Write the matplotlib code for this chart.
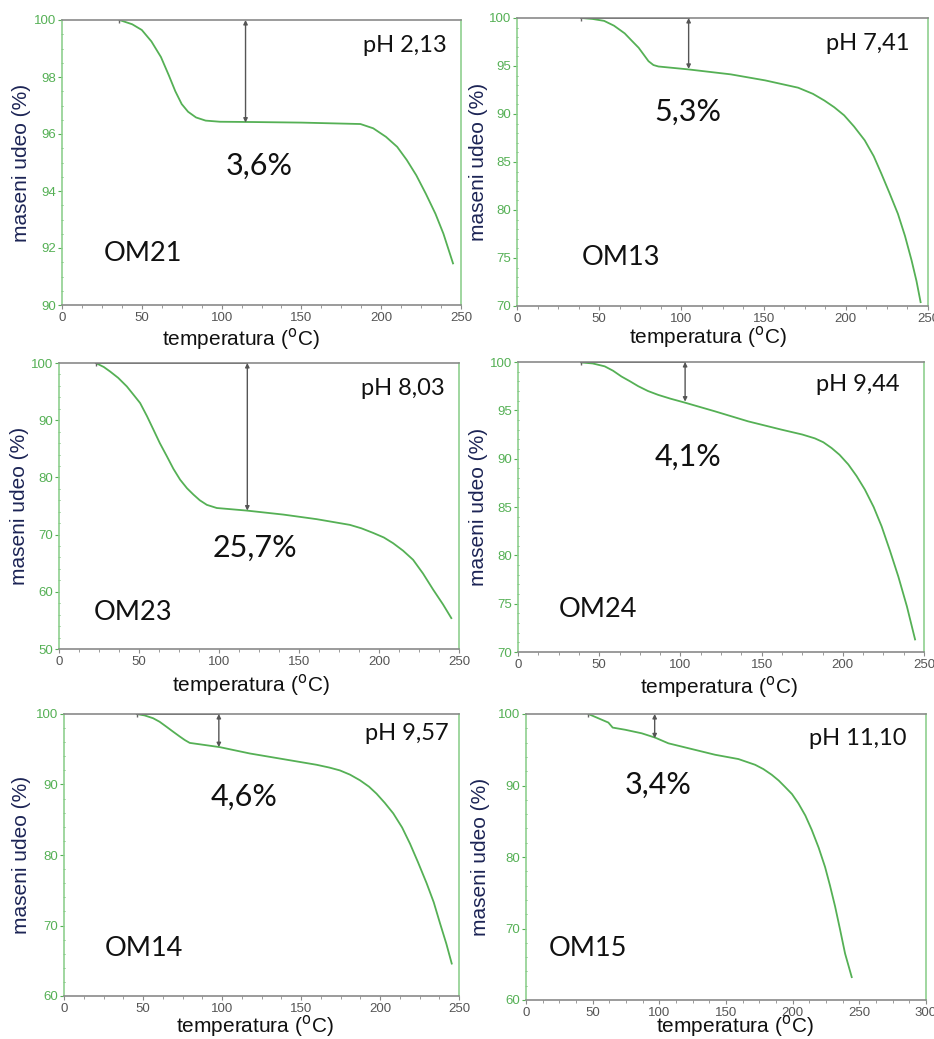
import numpy as np
import matplotlib; matplotlib.use('agg')
import matplotlib.pyplot as plt
from matplotlib.ticker import MultipleLocator, AutoMinorLocator

# sample names, pH and mass loss labels
names = ["OM21", "OM13", "OM23", "OM24", "OM14", "OM15"]
ph_labels = ["pH 2,13", "pH 7,41", "pH 8,03", "pH 9,44", "pH 9,57", "pH 11,10"]
loss_labels = ["3,6%", "5,3%", "25,7%", "4,1%", "4,6%", "3,4%"]

# TGA curves (temperature C, mass %)
t_om21 = [36, 44, 50, 56, 62, 67, 71, 75, 79, 84, 90, 99, 120, 150, 187, 195, 203, 210, 216, 222, 228, 234, 239, 245]
m_om21 = [100, 99.85, 99.65, 99.25, 98.7, 98.05, 97.5, 97.05, 96.78, 96.58, 96.47, 96.43, 96.42, 96.4, 96.35,
          96.2, 95.9, 95.55, 95.09, 94.55, 93.9, 93.2, 92.5, 91.46]
t_om13 = [39, 46, 53, 59, 65.5, 70, 74, 77, 80, 83, 86, 95, 104, 130, 151, 171, 180, 187, 193, 199, 205,
          211.5, 217, 221.6, 226.5, 231.7, 236, 240, 243, 245.5]
m_om13 = [100, 99.9, 99.7, 99.2, 98.4, 97.6, 96.9, 96.2, 95.5, 95.1, 94.95, 94.8, 94.65, 94.13, 93.5, 92.74,
          92.1, 91.4, 90.7, 89.86, 88.7, 87.26, 85.6, 83.8, 81.8, 79.6, 77.3, 74.76, 72.6, 70.4]
t_om23 = [23, 28, 32, 37, 42.4, 47, 50.7, 55, 59.1, 63, 67.4, 71.5, 75.7, 80, 84, 88, 92.4, 98.6, 117.3,
          140.2, 161, 181.8, 189, 196.3, 203, 208.8, 215, 221.3, 227.5, 233.8, 240, 245.2]
m_om23 = [100, 99.3, 98.5, 97.4, 95.9, 94.3, 93.0, 90.7, 88.3, 86.0, 83.7, 81.5, 79.6, 78.1, 77.0, 76.0,
          75.2, 74.65, 74.2, 73.5, 72.7, 71.7, 71.1, 70.3, 69.5, 68.5, 67.2, 65.6, 63.2, 60.4, 57.8, 55.4]
t_om24 = [39, 46, 53.4, 58.5, 63.7, 69, 74, 80, 86.3, 94, 102.7, 121.2, 141.7, 162.3, 175, 182.8, 188,
          193.1, 198, 203.4, 208.5, 213.6, 219, 223.9, 229, 234.2, 239.5, 244.5]
m_om24 = [99.95, 99.85, 99.55, 99.1, 98.5, 98.0, 97.5, 97.0, 96.6, 96.2, 95.8, 94.9, 93.86, 93.0, 92.5,
          92.1, 91.7, 91.1, 90.4, 89.4, 88.2, 86.8, 85.0, 83.0, 80.5, 77.8, 74.7, 71.3]
t_om14 = [46, 51, 56.4, 60.5, 64.8, 69, 73.3, 76.5, 79.6, 86, 98.6, 117.6, 138.7, 159.8, 168, 174.6, 181,
          187.3, 193, 197.8, 203, 208.4, 214, 219, 224, 229.5, 234, 238, 242, 245.4]
m_om14 = [100, 99.8, 99.4, 98.9, 98.2, 97.5, 96.8, 96.3, 95.9, 95.7, 95.3, 94.4, 93.6, 92.8, 92.4, 92.0,
          91.4, 90.6, 89.7, 88.7, 87.4, 85.9, 83.9, 81.6, 79.0, 76.0, 73.3, 70.3, 67.4, 64.6]
t_om15 = [46.8, 54.3, 61.8, 65, 74.3, 86.8, 96.8, 106.8, 124.3, 141.8, 159.3, 171.8, 178, 184.3, 189.5,
          194.3, 199.5, 204.3, 209.5, 214.3, 219.5, 224.3, 228, 231.8, 235.5, 239.3, 244.3]
m_om15 = [100, 99.4, 98.8, 98.1, 97.8, 97.3, 96.7, 95.9, 95.1, 94.3, 93.7, 92.9, 92.3, 91.5, 90.7,
          89.8, 88.8, 87.5, 85.8, 83.8, 81.3, 78.6, 76.0, 73.1, 69.9, 66.5, 63.2]

temps = [t_om21, t_om13, t_om23, t_om24, t_om14, t_om15]
masses = [m_om21, m_om13, m_om23, m_om24, m_om14, m_om15]

# step marker: arrow temperature and mass at its lower end
arrow_t = [115, 104.4, 117.7, 102.9, 98, 96.5]
arrow_m = [96.4, 94.7, 74.2, 95.9, 95.3, 96.6]
draw_base = [False, True, True, True, True, False]

# axis ranges
ymins = [90, 70, 50, 70, 60, 60]
ysteps = [2, 5, 10, 5, 10, 10]
xmaxs = [250, 250, 250, 250, 250, 300]

# text positions (data coords)
loss_pos = [(123.5, 94.9), (104, 90.2), (122.5, 67.7), (104.8, 90.2), (114, 88.3), (98.8, 90.1)]
ph_pos = [(215, 99.1), (213.5, 97.3), (215, 95.6), (209, 97.7), (216.8, 97.3), (249, 96.6)]
name_pos = [(50.8, 91.8), (63.5, 75.1), (46.6, 56.3), (49.3, 74.4), (50.5, 66.7), (46.8, 67.2)]

# axes rectangles in pixels (left, top, right, bottom)
W, H = 934, 1039
boxes = [(62, 20, 461, 305), (517, 18, 928, 306),
         (59, 363, 459, 649), (518, 362, 924, 652),
         (64, 714, 459, 996), (526, 714, 926, 1000)]
# axis label centres in pixels
xlab_px = [(241, 339), (708, 337), (251, 685), (719, 687), (255, 1026), (735, 1026)]
ylab_px = [22, 478, 20, 478, 22, 480]

green = '#55b055'
spine_green = '#8fd08f'
grey = '#8a8a8a'
label_font = 'Liberation Sans'
big_font = 'Lato'

fig = plt.figure(figsize=(W / 100, H / 100), dpi=100)

for i in range(6):
    l, t, r, b = boxes[i]
    ax = fig.add_axes([l / W, 1 - b / H, (r - l) / W, (b - t) / H])
    ax.plot(temps[i], masses[i], color=green, lw=1.3)
    ax.plot([temps[i][0]], [100], marker='|', color='#666666', ms=5, mew=1)
    if draw_base[i]:
        ax.plot([temps[i][0], arrow_t[i]], [100, 100], color='#222222', lw=1.3)
    ax.annotate('', xy=(arrow_t[i], arrow_m[i]), xytext=(arrow_t[i], 100),
                arrowprops=dict(arrowstyle='<|-|>', color='#555555', lw=1,
                                mutation_scale=6, shrinkA=0, shrinkB=0))

    ax.set_xlim(0, xmaxs[i])
    ax.set_ylim(ymins[i], 100)
    ax.xaxis.set_major_locator(MultipleLocator(50))
    ax.xaxis.set_minor_locator(AutoMinorLocator(4))
    ax.yaxis.set_major_locator(MultipleLocator(ysteps[i]))
    ax.yaxis.set_minor_locator(AutoMinorLocator(4 if ysteps[i] == 2 else 5))

    for s in ['left', 'right']:
        ax.spines[s].set_color(spine_green)
        ax.spines[s].set_linewidth(1.2)
    for s in ['top', 'bottom']:
        ax.spines[s].set_color(grey)
        ax.spines[s].set_linewidth(1.2)

    ax.tick_params(axis='y', which='major', colors=green, labelsize=9.5, length=3, width=0.8, pad=1)
    ax.tick_params(axis='y', which='minor', colors=green, length=2, width=0.6, direction='inout')
    ax.tick_params(axis='x', which='major', colors=grey, labelcolor='#555555', labelsize=9.5, length=3,
                   width=0.8, pad=2)
    ax.tick_params(axis='x', which='minor', colors=grey, length=2, width=0.6)
    for lab in ax.get_xticklabels() + ax.get_yticklabels():
        lab.set_family(label_font)

    ax.set_xlabel('temperatura ($^{\\rm o}$C)', fontsize=15, family=label_font, color='#111111')
    ax.set_ylabel('maseni udeo (%)', fontsize=15, family=label_font, color='#1c2455')
    xc, yc = xlab_px[i]
    ax.xaxis.set_label_coords((xc - l) / (r - l), (b - yc) / (b - t))
    ax.xaxis.label.set_va('center')
    ax.yaxis.set_label_coords((ylab_px[i] - l) / (r - l), 0.5)
    ax.yaxis.label.set_va('center')

    ax.text(loss_pos[i][0], loss_pos[i][1], loss_labels[i], fontsize=22, family=big_font,
            ha='center', va='center', color='#111111')
    ax.text(ph_pos[i][0], ph_pos[i][1], ph_labels[i], fontsize=17, family=big_font,
            ha='center', va='center', color='#111111')
    ax.text(name_pos[i][0], name_pos[i][1], names[i], fontsize=19.5, family=big_font,
            ha='center', va='center', color='#111111')

fig.savefig('out.png', dpi=100)
